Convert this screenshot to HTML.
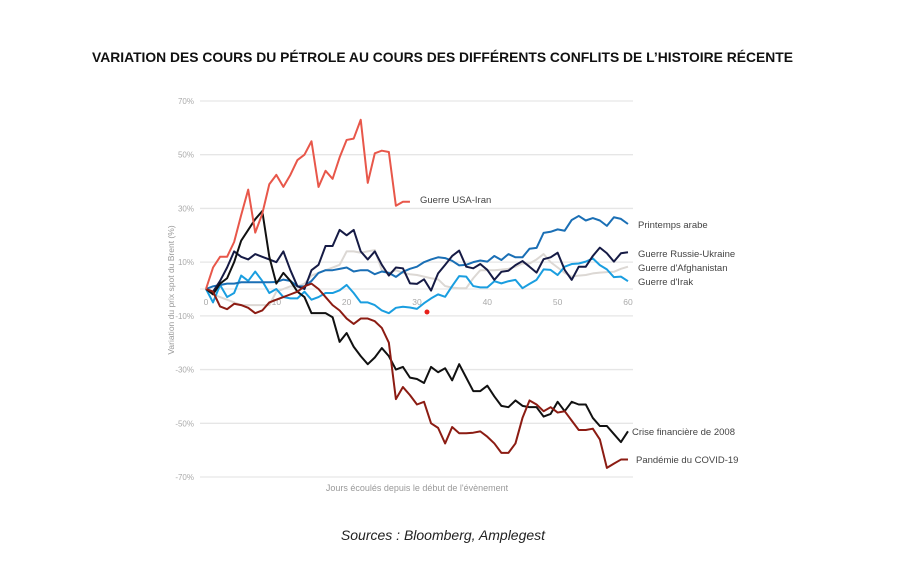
<!DOCTYPE html>
<html><head><meta charset="utf-8"><style>
body{margin:0;background:#fff;width:915px;height:572px;overflow:hidden;font-family:"Liberation Sans",sans-serif}
</style></head><body>
<svg id="chart" width="915" height="572" xmlns="http://www.w3.org/2000/svg" font-family="Liberation Sans, sans-serif">
<text x="92" y="62" font-size="13.8" font-weight="bold" fill="#111" textLength="701" lengthAdjust="spacingAndGlyphs">VARIATION DES COURS DU PÉTROLE AU COURS DES DIFFÉRENTS CONFLITS DE L’HISTOIRE RÉCENTE</text>
<g id="grid"></g><g id="series"></g><g id="labels"></g>
<text transform="translate(174,290) rotate(-90)" text-anchor="middle" font-size="8.5" fill="#999">Variation du prix spot du Brent (%)</text>
<text x="417" y="491" text-anchor="middle" font-size="9" fill="#999">Jours écoulés depuis le début de l'évènement</text>
<circle cx="427" cy="312" r="2.5" fill="#e8201a"/>
<text x="443" y="540" text-anchor="middle" font-size="14" font-style="italic" fill="#222">Sources : Bloomberg, Amplegest</text>
</svg>
<script>
const yTicks=[70,50,30,10,-10,-30,-50,-70];
const xTicks=[0,10,20,30,40,50,60];
const seriesNames=["Guerre USA-Iran","Printemps arabe","Guerre Russie-Ukraine","Guerre d'Afghanistan","Guerre d'Irak","Crise financière de 2008","Pandémie du COVID-19"];
const usaIran=[0,8,12,12,17.5,27.5,37,21,28,39,42.5,38,42.5,48,50,55,38,44,41,49,55.5,56,63,39.5,50.5,51.5,51,31,32.5,32.5];
const printemps=[0,1,1.5,2,2,2.5,2.5,2.5,2.5,2.5,2.6,3.5,3,1,1,3,6,7,7,7.5,8,6.5,7,7,5.5,6.5,6,4.5,6.4,7.5,8.3,10,11,11.8,11.5,10.5,8.8,9,10,10.6,10.2,12.3,10.8,13,11.8,11.8,15,15.3,20.9,21.3,22.2,21.7,25.7,27.2,25.5,26.4,25.5,23.5,26.7,26.1,24.2];
const russie=[0,-1,3,8,14,12,11,13,12,11,10,14,7,1,0,7,9,16,16,22,20,22,14,11,14,9,5,8,7.7,2.1,1.9,3.6,-0.6,5.8,9,12.3,14.3,8.3,7.7,9.3,7.1,3.4,6.4,6.8,8.9,10.4,8.3,6.1,11.1,11.8,13.5,7.1,3.4,8.3,8.3,12.3,15.4,13.3,10.2,13.3,13.7];
const afghan=[0,-2,-3,-4,-5,-6,-6,-6,-6,-6,-1,0,1,1,2,5,6,7,8,9,14,14,13.5,14,14.5,7,6,7,6,5.5,5.2,4.6,4,3.6,1.1,0.5,0.3,0.3,4,7,7,7,7.2,7.5,8.3,9.5,9.5,11,13,10,8,6,4.6,5,5.2,5.8,6.1,6.3,6.4,7.5,8.3];
const irak=[0,-5,1.5,-3,-1.5,5,3,6.5,3,-1.5,0,-3,-3.5,-3.5,-1,-4,-3,-1.5,-1.5,-0.5,1.5,-1.5,-5,-5,-6,-8,-9,-7,-6.6,-6.9,-7.4,-5.3,-3.5,-2,-2.9,1.1,4.8,4.6,1.1,0.6,0.6,2.9,2.1,2.9,3.4,0.3,1.9,3.4,7.3,7.1,5.2,8.3,9.3,9.5,10.2,11.4,8.9,7.3,4.4,4.6,2.9];
const crise2008=[0,-2,2,4,10,18,22,26,29,12,2,6,3,-1,-3,-9,-9,-9,-10.5,-19.7,-16.4,-21.5,-25,-28,-25.5,-22,-25,-30,-29,-33,-33.5,-35,-29,-31,-29.5,-34,-28,-33,-38,-38,-36,-40,-43.5,-44,-41.5,-43.5,-44,-44,-47.5,-46.5,-42,-45.5,-42,-43,-43,-48,-51,-51,-54,-57,-53];
const covid=[0,-1,-6.5,-7.5,-5.5,-6,-7,-9,-8,-5,-4,-3,-2,-1,1,2,0,-3,-6,-8,-11,-13,-11,-11,-12,-14.5,-20,-41,-36.5,-39.5,-43,-42,-50,-51.7,-57.5,-51.4,-53.7,-53.7,-53.5,-53,-55,-57.5,-61,-61,-57.5,-48,-41.5,-43,-45.5,-44,-46,-45.5,-49,-52.5,-52.5,-52,-56,-66.6,-65,-63.5,-63.5];
const NS="http://www.w3.org/2000/svg";
const X=d=>206+d*7.033;
const Y=v=>289-v*2.686;
const grid=document.getElementById('grid');
yTicks.forEach(t=>{
 const l=document.createElementNS(NS,'line');
 
 
 l.setAttribute('x1',200);l.setAttribute('x2',633);l.setAttribute('y1',Y(t));l.setAttribute('y2',Y(t));
 l.setAttribute('stroke','#e6e6e6');l.setAttribute('stroke-width','1.3');grid.appendChild(l);
 const tx=document.createElementNS(NS,'text');
 
 
 tx.setAttribute('x',194);tx.setAttribute('y',Y(t)+3);tx.setAttribute('text-anchor','end');
 tx.setAttribute('font-size','8');tx.setAttribute('fill','#aaa');tx.textContent=t+'%';grid.appendChild(tx);
});
{const l=document.createElementNS(NS,'line');
 
 
 l.setAttribute('x1',200);l.setAttribute('x2',633);l.setAttribute('y1',Y(0));l.setAttribute('y2',Y(0));
 l.setAttribute('stroke','#e6e6e6');l.setAttribute('stroke-width','1.3');grid.appendChild(l);}
xTicks.forEach(t=>{
 const tx=document.createElementNS(NS,'text');
 
 
 tx.setAttribute('x',X(t));tx.setAttribute('y',Y(0)+16);tx.setAttribute('text-anchor','middle');
 tx.setAttribute('font-size','8.5');tx.setAttribute('fill','#aaa');tx.textContent=t;grid.appendChild(tx);
});
const defs=[[afghan,'#dcd8d4','line-afghanistan'],[irak,'#1a9ee0','line-irak'],[printemps,'#1a6fb5','line-printemps-arabe'],[russie,'#161b45','line-russie-ukraine'],[crise2008,'#111111','line-crise-2008'],[covid,'#8c1c13','line-covid'],[usaIran,'#e8574a','line-usa-iran']];
const sg=document.getElementById('series');
defs.forEach(([arr,c,n])=>{
 const p=document.createElementNS(NS,'polyline');
 
 
 p.setAttribute('points',arr.map((v,i)=>X(i)+','+Y(v)).join(' '));
 p.setAttribute('fill','none');p.setAttribute('stroke',c);p.setAttribute('stroke-width','2');p.setAttribute('stroke-linejoin','round');
 sg.appendChild(p);
});
const lg=document.getElementById('labels');
const labelDefs=[[0,420,203],[1,638,228],[2,638,257],[3,638,271],[4,638,285],[5,632,435],[6,636,463]];
labelDefs.forEach(([i,x,y])=>{
 const tx=document.createElementNS(NS,'text');
 
 
 tx.setAttribute('x',x);tx.setAttribute('y',y);tx.setAttribute('font-size','9.5');tx.setAttribute('fill','#444');
 tx.textContent=seriesNames[i];lg.appendChild(tx);
});
</script>
</body></html>
